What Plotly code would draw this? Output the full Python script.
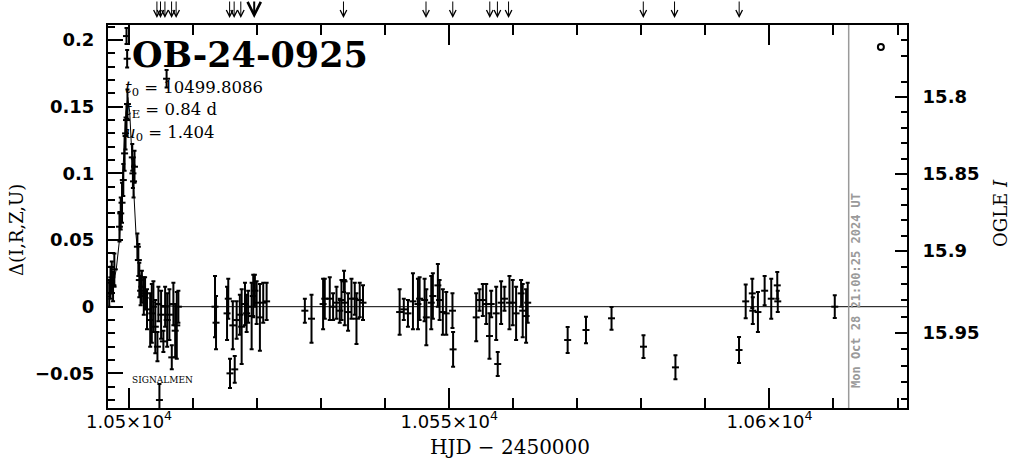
import plotly.graph_objects as go

# ---------------- data ----------------
hjd = [
    10496.9, 10497.1, 10497.3, 10497.5, 10497.7, 10498.5, 10498.7, 10498.9, 10499.1, 10499.3,
    10499.45, 10499.6, 10499.75, 10499.6, 10499.7, 10500.5, 10500.6, 10500.7, 10500.85, 10501.3,
    10501.45, 10501.6, 10501.8, 10502.0, 10502.3, 10502.5, 10502.8,
    10503.3, 10503.55, 10503.8, 10504.1, 10504.43, 10504.58, 10504.74, 10505.0, 10505.36, 10505.63,
    10505.86, 10505.95, 10506.3, 10506.67, 10506.92, 10507.2, 10507.45, 10507.7,
    10513.42, 10513.58, 10515.3, 10515.49, 10515.76, 10516.2, 10516.5, 10516.8, 10517.3, 10517.58,
    10518.1, 10518.36, 10518.6, 10519.14, 10519.39, 10519.65, 10519.92, 10520.43, 10520.95, 10521.48,
    10527.45, 10528.49, 10530.3, 10530.56, 10531.34, 10531.86, 10532.39, 10532.9, 10533.17, 10533.57,
    10533.68, 10534.2, 10534.73, 10535.24, 10535.51, 10536.02, 10536.53,
    10542.25, 10542.9, 10543.55, 10544.33, 10545.11, 10545.37, 10546.15, 10546.42, 10547.19, 10547.44,
    10548.22, 10548.49, 10549.0, 10549.53, 10550.5, 10550.6,
    10554.21, 10554.72, 10555.24, 10555.77, 10556.28, 10556.55, 10557.33, 10557.57, 10558.1, 10558.62,
    10559.4, 10559.91, 10560.44, 10561.22, 10561.47, 10562.0, 10562.25,
    10568.49, 10571.35, 10575.34, 10580.33, 10585.32, 10595.25, 10596.29, 10597.32, 10597.4, 10598.2,
    10599.25, 10600.28, 10601.22, 10601.3, 10610.2,
]
delta = [
    0.010, 0.018, 0.022, 0.015, 0.028, 0.060, 0.070, 0.078, 0.095, 0.115,
    0.130, 0.140, 0.152, 0.203, 0.186, 0.112, 0.100, 0.094, 0.105, 0.045,
    0.035, 0.020, 0.012, 0.015, 0.008, 0.010, -0.002,
    -0.010, -0.005, 0.000, -0.015, -0.030, 0.002, -0.070, -0.006, -0.026, 0.000,
    0.171, -0.010, -0.006, -0.038, 0.002, -0.018, -0.014, 0.000,
    0.000, -0.012, -0.005, 0.006, -0.050, -0.014, -0.047, -0.010, -0.006, -0.015,
    0.002, -0.005, 0.000, -0.007, 0.008, 0.012, 0.003, -0.008, 0.003, 0.004,
    -0.003, -0.009, 0.002, 0.006, 0.006, 0.000, 0.003, -0.003, 0.005, 0.019,
    0.003, -0.004, 0.006, 0.006, -0.009, 0.005, 0.003,
    -0.004, -0.002, -0.005, 0.004, 0.002, 0.006, 0.005, -0.008, 0.003, 0.008,
    0.016, 0.005, -0.004, -0.005, -0.003, -0.032,
    -0.008, 0.005, 0.005, 0.002, -0.022, 0.002, -0.005, -0.043, 0.003, 0.006,
    0.003, 0.003, -0.005, 0.010, -0.003, -0.007, 0.003,
    -0.025, -0.0175, -0.0087, -0.030, -0.0455, -0.0325, 0.004, 0.010, -0.003, -0.004,
    0.012, 0.006, 0.016, 0.004, 0.000,
]
err = [
    0.010, 0.012, 0.012, 0.011, 0.012, 0.011, 0.012, 0.015, 0.012, 0.013,
    0.012, 0.012, 0.011, 0.006, 0.0065, 0.010, 0.011, 0.012, 0.012, 0.010,
    0.012, 0.013, 0.011, 0.012, 0.014, 0.012, 0.015,
    0.020, 0.022, 0.019, 0.020, 0.011, 0.013, 0.012, 0.018, 0.008, 0.015,
    0.0065, 0.020, 0.019, 0.009, 0.016, 0.020, 0.025, 0.012,
    0.023, 0.020, 0.020, 0.015, 0.011, 0.018, 0.010, 0.014, 0.015, 0.028,
    0.016, 0.014, 0.012, 0.025, 0.016, 0.012, 0.016, 0.025, 0.015, 0.014,
    0.009, 0.018, 0.019, 0.015, 0.016, 0.010, 0.012, 0.009, 0.015, 0.008,
    0.017, 0.014, 0.015, 0.012, 0.019, 0.013, 0.013,
    0.017, 0.008, 0.010, 0.021, 0.019, 0.016, 0.016, 0.021, 0.020, 0.017,
    0.016, 0.015, 0.017, 0.016, 0.013, 0.013,
    0.018, 0.008, 0.012, 0.015, 0.017, 0.010, 0.020, 0.009, 0.016, 0.009,
    0.020, 0.017, 0.020, 0.010, 0.020, 0.020, 0.015,
    0.0097, 0.010, 0.0085, 0.0085, 0.009, 0.0097, 0.0127, 0.011, 0.010, 0.015,
    0.011, 0.015, 0.010, 0.008, 0.0085,
]

# model curve
model_hjd = [10496.71, 10497.0, 10497.5, 10498.0, 10498.5, 10498.9, 10499.2, 10499.5, 10499.8,
             10500.1, 10500.4, 10500.7, 10501.1, 10501.6, 10502.0, 10502.6, 10503.5, 10505.0,
             10508.0, 10621.48]
model_delta = [0.007, 0.009, 0.016, 0.028, 0.050, 0.086, 0.117, 0.146, 0.157,
               0.146, 0.117, 0.086, 0.053, 0.028, 0.016, 0.009, 0.004, 0.001,
               0.000, 0.000]

# arrows along the top
arrow_hjd = [10504.35, 10504.91, 10505.60, 10506.64, 10507.35, 10515.70, 10516.41, 10517.45,
             10519.54, 10533.48, 10546.37, 10550.55, 10556.33, 10557.52, 10559.26, 10580.30,
             10585.18, 10595.27]
arrow_bold = [10519.54]

# symbol at top right
sym_hjd = [10617.4]
sym_delta = [0.1948]

now_hjd = 10612.375
now_text = "Mon Oct 28 21:00:25 2024 UT"

x_ticks = [10500, 10550, 10600]
x_ticktext = ["1.05×10<sup>4</sup>", "1.055×10<sup>4</sup>", "1.06×10<sup>4</sup>"]

ogle_labels = ["15.8", "15.85", "15.9", "15.95"]
ogle_pos = [0.1573, 0.0995, 0.0418, -0.0197]     # delta-equivalent positions
ogle_minor = [0.2118, 0.1999, 0.1884, 0.1688, 0.1458, 0.1342, 0.1226, 0.1111,
              0.0880, 0.0764, 0.0649, 0.0533, 0.0295, 0.0172, 0.0049, -0.0074,
              -0.0320, -0.0443, -0.0566, -0.0689]

title = "OB-24-0925"
params = ["<i>t</i><sub>0</sub> = 10499.8086", "<i>t</i><sub>E</sub> = 0.84 d", "<i>u</i><sub>0</sub> = 1.404"]

# ---------------- figure ----------------
W, H = 1011, 459
L, R, T, B = 108, 907, 25, 408          # plot area in window pixels


def px(xp):
    return (xp - L) / (R - L)


def py(yp):
    return (B - yp) / (B - T)


fig = go.Figure()

fig.add_trace(go.Scatter(x=model_hjd, y=model_delta, mode="lines",
                         line=dict(color="black", width=1), showlegend=False, hoverinfo="skip"))

fig.add_trace(go.Scatter(
    x=hjd, y=delta, mode="markers",
    marker=dict(symbol="line-ew", size=5, color="black", line=dict(width=2, color="black")),
    error_y=dict(type="data", array=err, visible=True, color="black", thickness=2, width=2),
    showlegend=False,
))

fig.add_trace(go.Scatter(x=sym_hjd, y=sym_delta, mode="markers",
                         marker=dict(symbol="circle-open", size=6, color="black", line=dict(width=2)),
                         showlegend=False))

fig.add_trace(go.Scatter(x=[None], y=[None], yaxis="y2", showlegend=False))

fig.add_shape(type="line", x0=now_hjd, x1=now_hjd, y0=0, y1=1, xref="x", yref="paper",
              line=dict(color="#9a9a9a", width=1.5))

ann = []
for a in arrow_hjd:
    ann.append(dict(x=a, y=py(18), xref="x", yref="paper", text="", showarrow=True,
                    ax=0, ay=-18, arrowhead=5, arrowsize=1.3,
                    arrowwidth=2 if a in arrow_bold else 1, arrowcolor="black"))

ann.append(dict(x=px(130), y=py(54), xref="paper", yref="paper", text=f"<b>{title}</b>",
                showarrow=False, xanchor="left", yanchor="middle",
                font=dict(family="DejaVu Serif", size=35, color="black")))
for txt, yy in zip(params, [88, 110, 133]):
    ann.append(dict(x=px(123), y=py(yy), xref="paper", yref="paper", text=txt, showarrow=False,
                    xanchor="left", yanchor="middle",
                    font=dict(family="DejaVu Serif", size=16.5, color="black")))
ann.append(dict(x=px(130), y=py(380), xref="paper", yref="paper", text="SIGNALMEN", showarrow=False,
                xanchor="left", yanchor="middle", font=dict(family="DejaVu Serif", size=9, color="black")))
ann.append(dict(x=px(856), y=py(291), xref="paper", yref="paper", text=f"<b>{now_text}</b>",
                showarrow=False, textangle=-90, xanchor="center", yanchor="middle",
                font=dict(family="DejaVu Sans Mono", size=12, color="#9a9a9a")))
ann.append(dict(x=px(16), y=py(230), xref="paper", yref="paper", text="Δ(I,R,Z,U)", showarrow=False,
                textangle=-90, xanchor="center", yanchor="middle",
                font=dict(family="DejaVu Serif", size=18, color="black")))
ann.append(dict(x=px(510), y=py(447), xref="paper", yref="paper", text="HJD − 2450000", showarrow=False,
                xanchor="center", yanchor="middle",
                font=dict(family="DejaVu Serif", size=20, color="black")))
ann.append(dict(x=px(1000), y=py(213), xref="paper", yref="paper", text="OGLE <i>I</i>", showarrow=False,
                textangle=-90, xanchor="center", yanchor="middle",
                font=dict(family="DejaVu Serif", size=18, color="black")))

tickfont = dict(family="DejaVu Sans", size=18, color="black", weight="bold")

fig.update_layout(
    width=W, height=H,
    margin=dict(l=L, r=W - R, t=T, b=H - B, pad=0),
    paper_bgcolor="white", plot_bgcolor="white",
    annotations=ann,
    xaxis=dict(range=[10496.71, 10621.48], tickmode="array", tickvals=x_ticks, ticktext=x_ticktext,
               ticks="inside", ticklen=20, tickwidth=2, tickcolor="black",
               minor=dict(tickmode="linear", tick0=10500, dtick=10, ticks="inside", ticklen=10,
                          tickwidth=2, tickcolor="black"),
               showline=True, linecolor="black", linewidth=2, mirror="ticks",
               showgrid=False, zeroline=False,
               tickfont=dict(family="DejaVu Sans", size=18, color="black"), ticklabelstandoff=-4),
    yaxis=dict(range=[-0.07598, 0.2113], tickmode="linear", tick0=0, dtick=0.05,
               ticks="inside", ticklen=15, tickwidth=2, tickcolor="black",
               minor=dict(tickmode="linear", tick0=0, dtick=0.01, ticks="inside", ticklen=7,
                          tickwidth=2, tickcolor="black"),
               showline=True, linecolor="black", linewidth=2, mirror=False,
               showgrid=False, zeroline=False, tickfont=tickfont, ticklabelstandoff=8),
    yaxis2=dict(range=[-0.07598, 0.2113], overlaying="y", side="right", anchor="x",
                tickmode="array", tickvals=ogle_pos, ticktext=ogle_labels,
                ticks="inside", ticklen=12, tickwidth=2, tickcolor="black",
                minor=dict(tickmode="array", tickvals=ogle_minor, ticks="inside", ticklen=6,
                           tickwidth=2, tickcolor="black"),
                showline=True, linecolor="black", linewidth=2,
                showgrid=False, zeroline=False, tickfont=tickfont, ticklabelstandoff=10),
)

# remove the default 8px page margin so the figure fills the window exactly
fig.write_html("out.html", config={"displayModeBar": False},
               post_script="document.body.style.margin='0px';document.body.style.overflow='hidden';")
